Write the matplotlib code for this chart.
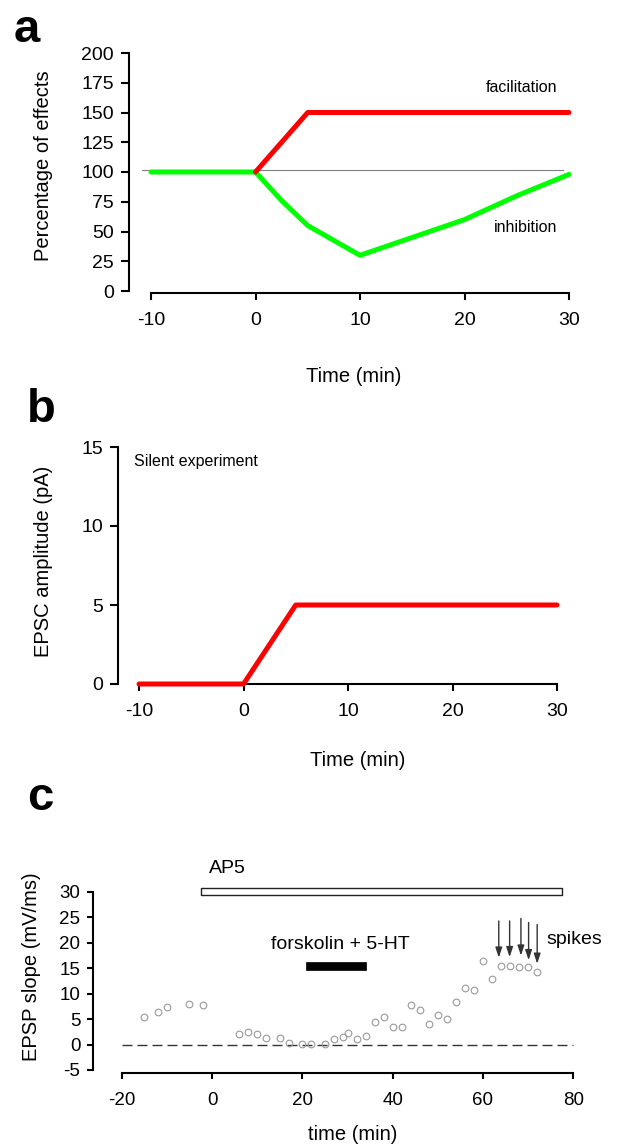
import matplotlib
matplotlib.use("Agg")
import matplotlib.pyplot as plt

plt.rcParams['font.family'] = ['Liberation Sans', 'DejaVu Sans']
plt.rcParams['axes.unicode_minus'] = False

W, H, DPI = 621, 1145, 100

# ---------------- data ----------------
# panel a
a_fac_time = [0, 5, 30]
a_fac = [100, 150, 150]
a_inh_time = [-10, 0, 2.5, 5, 10, 15, 20, 25, 30]
a_inh = [100, 100, 76, 55, 30, 45, 60, 80, 98]
a_base_x = [-10.9, 29.4]
a_base_y = [102, 102]
a_xticks = [-10, 0, 10, 20, 30]
a_yticks = [0, 25, 50, 75, 100, 125, 150, 175, 200]

# panel b
b_time = [-10, 0, 5, 30]
b_epsc = [0, 0, 5, 5]
b_xticks = [-10, 0, 10, 20, 30]
b_yticks = [0, 5, 10, 15]

# panel c
c_time = [-15, -12, -10, -5, -2, 6, 8, 10, 12, 15, 17, 20, 22, 25, 27, 29, 30,
          32, 34, 36, 38, 40, 42, 44, 46, 48, 50, 52, 54, 56, 58, 60, 62, 64,
          66, 68, 70, 72]
c_slope = [5.4, 6.4, 7.4, 8.0, 7.8, 2.1, 2.4, 2.1, 1.2, 1.2, 0.4, 0.1, 0.2,
           0.1, 1.1, 1.5, 2.2, 1.1, 1.7, 4.4, 5.4, 3.4, 3.4, 7.8, 6.8, 4.1,
           5.8, 5.1, 8.4, 11.1, 10.8, 16.5, 12.8, 15.5, 15.5, 15.2, 15.2, 14.2]
c_arrow_x = [63.5, 65.9, 68.4, 70.1, 72.0]
c_arrow_top = [24.3, 24.3, 24.8, 24.0, 23.6]
c_arrow_tip = [17.1, 17.2, 17.5, 16.6, 15.9]
c_ap5_span = [-2.4, 77.6]
c_ap5_y = [29.4, 30.7]
c_forsk_span = [20.8, 34.1]
c_forsk_y = [14.6, 16.2]
c_zero_x = [-20, 80]
c_xticks = [-20, 0, 20, 40, 60, 80]
c_yticks = [-5, 0, 5, 10, 15, 20, 25, 30]

fig = plt.figure(figsize=(W / DPI, H / DPI), dpi=DPI)


def make_axes(box, xref, yref):
    l, t, r, b = box
    ax = fig.add_axes([l / W, 1 - b / H, (r - l) / W, (b - t) / H])
    (px0, v0), (px1, v1) = xref
    sx = (px1 - px0) / (v1 - v0)
    ax.set_xlim(v0 + (l - px0) / sx, v0 + (r - px0) / sx)
    (py0, w0), (py1, w1) = yref
    sy = (py1 - py0) / (w1 - w0)
    ax.set_ylim(w0 + (b - py0) / sy, w0 + (t - py0) / sy)
    ax.patch.set_alpha(0)
    for s in ('top', 'right'):
        ax.spines[s].set_visible(False)
    for s in ('left', 'bottom'):
        ax.spines[s].set_linewidth(1.5)
    return ax


def ftext(x, y, s, **kw):
    fig.text(x / W, 1 - y / H, s, **kw)


# ---------------- panel a ----------------
ax = make_axes((129, 40, 600, 293), ((151, -10), (569, 30)), ((291, 0), (53, 200)))
ax.plot(a_base_x, a_base_y, color='#808080', lw=0.8)
ax.plot(a_inh_time, a_inh, color='#00ff00', lw=3.6, solid_capstyle='round',
        solid_joinstyle='round')
ax.plot(a_fac_time, a_fac, color='#ff0000', lw=3.6, solid_capstyle='round',
        solid_joinstyle='round')
ax.text(28.9, 171, 'facilitation', fontsize=11.5, ha='right', va='center')
ax.text(28.9, 53, 'inhibition', fontsize=11.5, ha='right', va='center')
ax.set_xticks(a_xticks)
ax.set_yticks(a_yticks)
ax.spines['bottom'].set_bounds(-10, 30)
ax.spines['left'].set_bounds(0, 200)
ax.tick_params(axis='x', direction='out', length=5, width=1.5, pad=9, labelsize=14)
ax.tick_params(axis='y', direction='out', length=5.8, width=1.5, pad=5, labelsize=14)
ftext(44, 166, 'Percentage of effects', rotation=90, ha='center', va='center', fontsize=14.5)
ftext(354, 377, 'Time (min)', ha='center', va='center', fontsize=14.5)
ftext(14, 8, 'a', fontsize=34, fontweight='bold', ha='left', va='top')

# ---------------- panel b ----------------
ax = make_axes((118, 430, 600, 684), ((139, -10), (557, 30)), ((684, 0), (447, 15)))
ax.plot(b_time, b_epsc, color='#ff0000', lw=3.6, solid_capstyle='round',
        solid_joinstyle='round', clip_on=False, zorder=5)
ax.text(-10.5, 14.1, 'Silent experiment', fontsize=11.5, ha='left', va='center')
ax.set_xticks(b_xticks)
ax.set_yticks(b_yticks)
ax.spines['bottom'].set_bounds(-10, 30)
ax.spines['left'].set_bounds(0, 15)
ax.tick_params(axis='x', direction='out', length=5, width=1.5, pad=9, labelsize=14)
ax.tick_params(axis='y', direction='out', length=5.8, width=1.5, pad=5, labelsize=14)
ftext(44, 561, 'EPSC amplitude (pA)', rotation=90, ha='center', va='center', fontsize=14.5)
ftext(358, 760, 'Time (min)', ha='center', va='center', fontsize=14.5)
ftext(27, 388, 'b', fontsize=34, fontweight='bold', ha='left', va='top')

# ---------------- panel c ----------------
ax = make_axes((93, 860, 610, 1073), ((121.7, -20), (573.3, 80)), ((1070, -5), (892, 30)))
ax.plot(c_zero_x, [0, 0], color='#333333', lw=1.0, dashes=(7.2, 3.6))
ax.plot(c_time, c_slope, ls='none', marker='o', ms=4.8, mfc='none',
        mec='#999999', mew=0.8)
ax.fill_between(c_ap5_span, c_ap5_y[0], c_ap5_y[1], facecolor='white',
                edgecolor='#222222', lw=1.0, clip_on=False)
ax.fill_between(c_forsk_span, c_forsk_y[0], c_forsk_y[1], facecolor='black',
                edgecolor='black', lw=0.5, clip_on=False)
for xa, yt, yb in zip(c_arrow_x, c_arrow_top, c_arrow_tip):
    ax.annotate('', xy=(xa, yb), xytext=(xa, yt),
                arrowprops=dict(arrowstyle='-|>,head_length=0.6,head_width=0.2',
                                color='#333333', lw=1.0, shrinkA=0, shrinkB=0))
ax.text(-0.6, 34.7, 'AP5', fontsize=14, ha='left', va='center')
ax.text(28.4, 19.7, 'forskolin + 5-HT', fontsize=14, ha='center', va='center')
ax.text(74.0, 20.7, 'spikes', fontsize=14, ha='left', va='center')
ax.set_xticks(c_xticks)
ax.set_yticks(c_yticks)
ax.spines['bottom'].set_bounds(-20, 80)
ax.spines['left'].set_bounds(-5, 30)
ax.tick_params(axis='x', direction='out', length=4.5, width=1.5, pad=9, labelsize=13.5)
ax.tick_params(axis='y', direction='out', length=4, width=1.5, pad=5, labelsize=13.5)
ftext(32, 967, 'EPSP slope (mV/ms)', rotation=90, ha='center', va='center', fontsize=14.5)
ftext(353, 1135, 'time (min)', ha='center', va='center', fontsize=14.5)
ftext(27, 776, 'c', fontsize=34, fontweight='bold', ha='left', va='top')

fig.savefig('out.png', dpi=DPI)
